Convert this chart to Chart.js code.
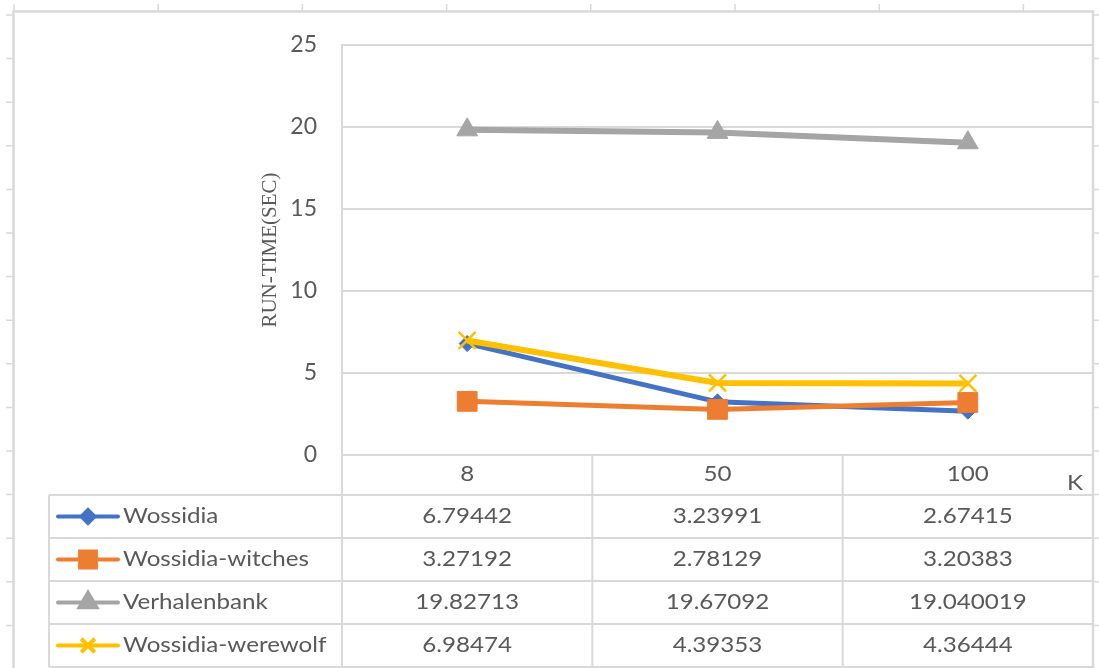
<!DOCTYPE html>
<html>
<head>
<meta charset="utf-8">
<title>Run-time by K</title>
<script src="https://cdn.jsdelivr.net/npm/chart.js@4.4.1/dist/chart.umd.min.js"></script>
<style>
  html, body { margin: 0; padding: 0; background: #ffffff; overflow: hidden; }
  #wrap { width: 1099px; height: 668px; position: relative; }
</style>
</head>
<body>
<div id="wrap"><canvas id="c" width="1099" height="668"></canvas></div>
<script>
// K values on the category axis
const categories = ['8', '50', '100'];

// Run-time in seconds per series
const wossidia = [6.79442, 3.23991, 2.67415];
const wossidiaWitches = [3.27192, 2.78129, 3.20383];
const verhalenbank = [19.82713, 19.67092, 19.040019];
const wossidiaWerewolf = [6.98474, 4.39353, 4.36444];

const seriesNames = ['Wossidia', 'Wossidia-witches', 'Verhalenbank', 'Wossidia-werewolf'];
const yTicks = [0, 5, 10, 15, 20, 25];

const TEXT = '#595959';
const LINE = '#d9d9d9';
const FONT = 'Lato';
const TABLE_FONT = '21px ' + FONT;
const STRETCH = 1.15;   // table text is set slightly wide

Chart.defaults.font.family = FONT;
Chart.defaults.color = TEXT;

function series(label, data, color, style, radius, order, lineW, bw) {
  return {
    label, data, order,
    borderColor: color,
    backgroundColor: color,
    borderWidth: lineW,
    pointStyle: style,
    pointRadius: radius,
    pointHoverRadius: radius,
    pointBorderWidth: bw,
    pointBackgroundColor: color,
    pointBorderColor: color,
    tension: 0
  };
}

function wideText(ctx, text, x, y, align) {
  ctx.save();
  ctx.translate(x, y);
  ctx.scale(STRETCH, 1);
  ctx.textAlign = align;
  ctx.textBaseline = 'middle';
  ctx.fillText(text, 0, 0);
  ctx.restore();
}

// sheet backdrop: cell header ticks and the chart object frame
const sheetPlugin = {
  id: 'sheet',
  beforeDraw(chart) {
    const ctx = chart.ctx;
    ctx.save();
    ctx.fillStyle = '#ffffff';
    ctx.fillRect(0, 0, chart.width, chart.height);
    ctx.strokeStyle = LINE;
    ctx.lineWidth = 1.5;
    ctx.beginPath();
    for (let cx = 14; cx < chart.width; cx += 144.2) {
      ctx.moveTo(cx, 4); ctx.lineTo(cx, 11);
    }
    for (let ry = 15; ry < chart.height; ry += 43.6) {
      ctx.moveTo(6, ry); ctx.lineTo(13, ry);
      ctx.moveTo(1093, ry); ctx.lineTo(1099, ry);
    }
    ctx.stroke();
    ctx.lineWidth = 2.5;
    ctx.strokeRect(13.5, 11.5, 1093 - 13.5, 720);
    ctx.restore();
  }
};

// data table under the plot, with legend keys in the first column
const tablePlugin = {
  id: 'dataTable',
  afterDraw(chart) {
    const ctx = chart.ctx;
    const xs = chart.scales.x;
    const area = chart.chartArea;
    const colW = xs.getPixelForValue(1) - xs.getPixelForValue(0);
    const left = area.left, right = area.right;
    const top = area.bottom;
    const headerBottom = top + 40;
    const rowH = 43;
    const legendLeft = 49;
    const sets = chart.data.datasets;
    const bottom = headerBottom + rowH * sets.length;

    ctx.save();
    ctx.strokeStyle = LINE;
    ctx.lineWidth = 2;
    ctx.beginPath();
    for (let i = 0; i <= xs.ticks.length; i++) {
      const vx = left + i * colW;
      ctx.moveTo(vx, top); ctx.lineTo(vx, bottom);
    }
    ctx.moveTo(legendLeft, headerBottom); ctx.lineTo(legendLeft, bottom);
    for (let r = 0; r <= sets.length; r++) {
      const hy = headerBottom + r * rowH;
      ctx.moveTo(legendLeft, hy); ctx.lineTo(right, hy);
    }
    ctx.stroke();

    ctx.fillStyle = TEXT;
    ctx.font = TABLE_FONT;
    // category labels from the x scale, in the header row
    xs.ticks.forEach((t, i) => {
      wideText(ctx, xs.getLabelForValue(t.value), xs.getPixelForTick(i), top + 19, 'center');
    });
    // axis title K
    wideText(ctx, 'K', right - 18, top + 28, 'center');

    sets.forEach((ds, r) => {
      const cy = headerBottom + r * rowH + rowH / 2;
      // legend key
      ctx.strokeStyle = ds.borderColor;
      ctx.fillStyle = ds.borderColor;
      ctx.lineWidth = 4;
      ctx.lineCap = 'round';
      ctx.beginPath();
      ctx.moveTo(58, cy); ctx.lineTo(118, cy);
      ctx.stroke();
      ctx.lineCap = 'butt';
      Chart.helpers.drawPoint(ctx, {
        pointStyle: ds.pointStyle,
        radius: ds.pointRadius * 0.8,
        borderWidth: ds.pointBorderWidth
      }, 88, cy);
      // series name and values
      ctx.fillStyle = TEXT;
      ctx.font = TABLE_FONT;
      wideText(ctx, ds.label, 123, cy, 'left');
      ds.data.forEach((v, i) => {
        wideText(ctx, String(v), xs.getPixelForValue(i), cy, 'center');
      });
    });
    ctx.restore();
  }
};

new Chart(document.getElementById('c'), {
  type: 'line',
  data: {
    labels: categories,
    datasets: [
      series(seriesNames[0], wossidia, '#4472C4', 'rectRot', 8, 4, 5, 1),
      series(seriesNames[1], wossidiaWitches, '#ED7D31', 'rect', 14, 3, 5, 1),
      series(seriesNames[2], verhalenbank, '#A5A5A5', 'triangle', 12, 2, 6, 1),
      series(seriesNames[3], wossidiaWerewolf, '#FFC000', 'crossRot', 12, 1, 6, 2.5)
    ]
  },
  options: {
    responsive: false,
    animation: false,
    devicePixelRatio: 1,
    layout: { autoPadding: false, padding: { left: 258, top: 45, right: 6, bottom: 0 } },
    plugins: {
      legend: { display: false },
      tooltip: { enabled: false }
    },
    scales: {
      x: {
        offset: true,
        grid: { display: false, drawTicks: false },
        border: { display: false },
        ticks: { display: false },
        afterFit(s) { s.height = 213; }
      },
      y: {
        min: 0,
        max: 25,
        afterBuildTicks(s) { s.ticks = yTicks.map(v => ({ value: v })); },
        ticks: { padding: 25, color: TEXT, font: { size: 23 } },
        grid: { color: LINE, lineWidth: 2, drawTicks: false },
        border: { display: true, color: LINE, width: 2 },
        title: {
          display: true,
          text: 'RUN-TIME(SEC)',
          color: TEXT,
          padding: 0,
          font: { family: 'Liberation Serif', size: 21 }
        },
        afterFit(s) { s.width = 84; }
      }
    }
  },
  plugins: [sheetPlugin, tablePlugin]
});
</script>
</body>
</html>
